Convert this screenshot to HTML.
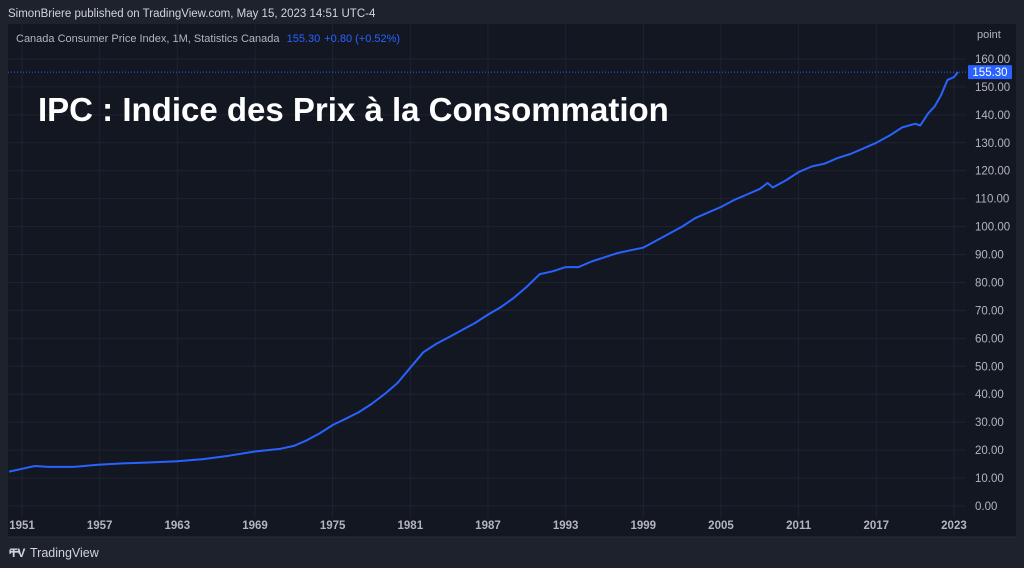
<!DOCTYPE html>
<html><head><meta charset="utf-8"><style>
html,body{margin:0;padding:0;background:#1e222d;width:1024px;height:568px;overflow:hidden;font-family:"Liberation Sans",sans-serif}
svg{position:absolute;left:0;top:0}
</style></head><body>
<svg id="c" width="1024" height="568">
<rect x="0" y="0" width="1024" height="568" fill="#1e222d"/>
<rect x="8" y="24" width="958" height="513" fill="#131722"/>
<rect x="966" y="24" width="50" height="513" fill="#131722"/>
<line x1="8" y1="537" x2="1016" y2="537" stroke="#2a2e39"/>
<g id="grid"></g><g id="ticks"></g>
<text x="8" y="17" fill="#d1d4dc" font-size="11.5">SimonBriere published on TradingView.com, May 15, 2023 14:51 UTC-4</text>
<text x="16" y="42" fill="#b2b5be" font-size="11">Canada Consumer Price Index, 1M, Statistics Canada <tspan fill="#2962ff" dx="4">155.30</tspan><tspan fill="#2962ff" dx="4">+0.80 (+0.52%)</tspan></text>
<text x="977" y="38" fill="#b2b5be" font-size="11">point</text>
<text x="38" y="121" fill="#ffffff" font-size="33" font-weight="bold">IPC : Indice des Prix à la Consommation</text>
<g id="plot"></g>
<g><text x="9" y="557" fill="#d1d4dc" font-size="14" font-weight="bold">ꟷ</text><text x="10" y="557" fill="#d1d4dc" font-size="12" font-weight="bold">TV</text><text x="30" y="557" fill="#d1d4dc" font-size="12.5">TradingView</text></g>
</svg>
<script>
const years=[1950,1951,1952,1953,1955,1957,1959,1961,1963,1965,1967,1969,1971,1972,1973,1974,1975,1976,1977,1978,1979,1980,1981,1982,1983,1984,1985,1986,1987,1988,1989,1990,1991,1992,1993,1994,1995,1996,1997,1998,1999,2000,2001,2002,2003,2004,2005,2006,2007,2008,2008.6,2009,2010,2011,2012,2013,2014,2015,2016,2017,2018,2019,2020,2020.4,2021,2021.5,2022,2022.5,2023,2023.3];
const cpi=[12.3,13.3,14.3,14.0,14.0,14.8,15.3,15.6,16.0,16.8,18.0,19.5,20.5,21.5,23.5,26,29,31.2,33.5,36.5,40,44,49.5,55,58,60.5,63,65.5,68.5,71.2,74.5,78.5,83,84,85.5,85.5,87.5,89,90.5,91.5,92.5,95,97.5,100,103,105,107,109.5,111.5,113.5,115.6,114,116.5,119.5,121.5,122.5,124.5,126,128,130,132.5,135.5,136.8,136.2,140.5,143,147,152.5,153.5,155.3];
const priceTicks=[0,10,20,30,40,50,60,70,80,90,100,110,120,130,140,150,160];
const yearTicks=[1951,1957,1963,1969,1975,1981,1987,1993,1999,2005,2011,2017,2023];
const last=155.30;
const X=y=>22+(y-1951)*12.944, Y=v=>506-2.794*v;
const NS='http://www.w3.org/2000/svg';
const mk=(t,a,p)=>{const e=document.createElementNS(NS,t);for(const k in a)e.setAttribute(k,a[k]);document.getElementById(p).appendChild(e);return e;};
priceTicks.forEach(v=>{
 const l=mk('line',{x1:8,x2:966,y1:Y(v),y2:Y(v),stroke:'#1f2330'},'grid');
 
 
 const t=mk('text',{x:975,y:Y(v)+4,fill:'#b2b5be','font-size':11.5},'ticks');t.textContent=v.toFixed(2);
 
 
});
yearTicks.forEach(y=>{
 const l=mk('line',{x1:X(y),x2:X(y),y1:24,y2:518,stroke:'#1f2330'},'grid');
 
 
 const t=mk('text',{x:X(y),y:529,fill:'#b2b5be','font-size':11.5,'font-weight':'bold','text-anchor':'middle'},'ticks');t.textContent=y;
 
 
});
const d=years.map((y,i)=>(i?'L':'M')+X(y).toFixed(1)+','+Y(cpi[i]).toFixed(1)).join('');
const ln=mk('path',{d:d,fill:'none',stroke:'#2962ff','stroke-width':2,'stroke-linejoin':'round'},'plot');


const pl=mk('line',{x1:8,x2:966,y1:Y(last),y2:Y(last),stroke:'#2962ff','stroke-dasharray':'1 2'},'plot');


const bx=mk('rect',{x:968,y:Y(last)-7,width:44,height:14,fill:'#2962ff',rx:1},'plot');


const bt=mk('text',{x:990,y:Y(last)+4,fill:'#fff','font-size':11.5,'text-anchor':'middle'},'plot');bt.textContent=last.toFixed(2);


</script>
</body></html>
